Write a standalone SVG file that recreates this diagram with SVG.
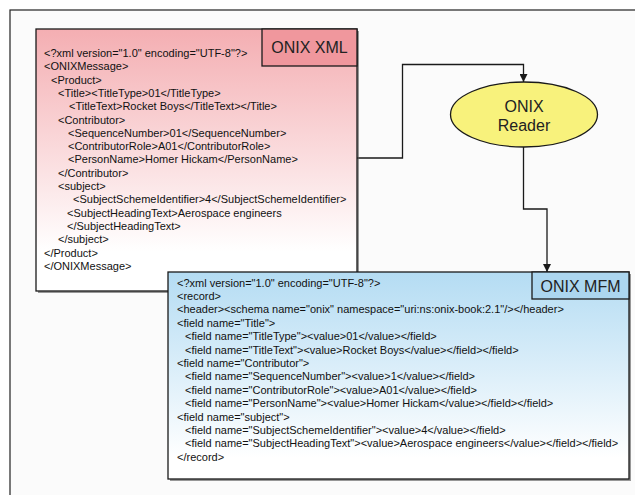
<svg xmlns="http://www.w3.org/2000/svg" width="635" height="495" viewBox="0 0 635 495">
  <style>
    .code { font-family: "Liberation Sans", Arial, sans-serif; font-size: 11px; fill: #111; }
    .tag { font-family: "Liberation Sans", Arial, sans-serif; font-size: 16px; fill: #222; }
    .box { stroke: #1a1a1a; stroke-width: 1.3; }
    .shadow { fill: #555; opacity: 0.6; }
    .wire { fill: none; stroke: #1a1a1a; stroke-width: 1.3; }
  </style>
  <defs>
    <linearGradient id="pinkFade" x1="0" y1="0" x2="0" y2="1">
      <stop offset="0" stop-color="#f4aeb2"/>
      <stop offset="0.85" stop-color="#ffffff"/>
      <stop offset="1" stop-color="#ffffff"/>
    </linearGradient>
    <linearGradient id="blueFade" x1="0" y1="0" x2="0" y2="1">
      <stop offset="0" stop-color="#b4dcf3"/>
      <stop offset="0.9" stop-color="#ffffff"/>
      <stop offset="1" stop-color="#ffffff"/>
    </linearGradient>
    <marker id="arrow" viewBox="0 0 8 8" refX="8" refY="4" markerWidth="8" markerHeight="8" markerUnits="userSpaceOnUse" orient="auto">
      <path d="M0,0 L8,4 L0,8 z" fill="#1a1a1a"/>
    </marker>
  </defs>

  <!-- page background and frame -->
  <rect x="0" y="0" width="635" height="495" fill="#ffffff"/>
  <rect x="10" y="10" width="630" height="490" fill="#fbfbfb" stroke="#222" stroke-width="1.2"/>

  <!-- connectors -->
  <g id="connectors">
    <path class="wire" d="M357,158 H402.5 V64.5 H523.5 V82" marker-end="url(#arrow)"/>
    <path class="wire" d="M523.5,147 V209 H547 V272" marker-end="url(#arrow)"/>
  </g>

  <!-- ONIX XML source record -->
  <g id="onix-xml">
    <rect class="shadow" x="38" y="31" width="321" height="262"/>
    <rect class="box" x="36" y="29" width="321" height="262" fill="url(#pinkFade)"/>
    <rect class="box" x="262" y="29" width="95" height="37" fill="#f0979d"/>
    <text class="tag" x="309.5" y="53" text-anchor="middle">ONIX XML</text>
    <text class="code" x="44" y="57">&lt;?xml version="1.0" encoding="UTF-8"?&gt;</text>
    <text class="code" x="44" y="70.3">&lt;ONIXMessage&gt;</text>
    <text class="code" x="51" y="83.6">&lt;Product&gt;</text>
    <text class="code" x="58" y="96.9">&lt;Title&gt;&lt;TitleType&gt;01&lt;/TitleType&gt;</text>
    <text class="code" x="69" y="110.2">&lt;TitleText&gt;Rocket Boys&lt;/TitleText&gt;&lt;/Title&gt;</text>
    <text class="code" x="58" y="123.5">&lt;Contributor&gt;</text>
    <text class="code" x="68" y="136.8">&lt;SequenceNumber&gt;01&lt;/SequenceNumber&gt;</text>
    <text class="code" x="68" y="150.1">&lt;ContributorRole&gt;A01&lt;/ContributorRole&gt;</text>
    <text class="code" x="68" y="163.4">&lt;PersonName&gt;Homer Hickam&lt;/PersonName&gt;</text>
    <text class="code" x="58" y="176.7">&lt;/Contributor&gt;</text>
    <text class="code" x="58" y="190">&lt;subject&gt;</text>
    <text class="code" x="73" y="203.3">&lt;SubjectSchemeIdentifier&gt;4&lt;/SubjectSchemeIdentifier&gt;</text>
    <text class="code" x="67" y="216.6">&lt;SubjectHeadingText&gt;Aerospace engineers</text>
    <text class="code" x="67" y="229.9">&lt;/SubjectHeadingText&gt;</text>
    <text class="code" x="58" y="243.2">&lt;/subject&gt;</text>
    <text class="code" x="44" y="256.5">&lt;/Product&gt;</text>
    <text class="code" x="44" y="269.8">&lt;/ONIXMessage&gt;</text>
  </g>

  <!-- ONIX Reader process -->
  <g id="onix-reader">
    <ellipse cx="524" cy="114.5" rx="73.5" ry="32.5" fill="#f8f27c" stroke="#1a1a1a" stroke-width="1.3"/>
    <text class="tag" x="524" y="111.5" text-anchor="middle" fill="#333">ONIX</text>
    <text class="tag" x="524" y="130.5" text-anchor="middle" fill="#333">Reader</text>
  </g>

  <!-- ONIX MFM output record -->
  <g id="onix-mfm">
    <rect class="shadow" x="170" y="274" width="461" height="207"/>
    <rect class="box" x="168" y="272" width="461" height="207" fill="url(#blueFade)"/>
    <rect class="box" x="532" y="272" width="97" height="27" fill="#acd6ef"/>
    <text class="tag" x="580.5" y="291.5" text-anchor="middle">ONIX MFM</text>
    <text class="code" x="177" y="286.5">&lt;?xml version="1.0" encoding="UTF-8"?&gt;</text>
    <text class="code" x="177" y="299.9">&lt;record&gt;</text>
    <text class="code" x="177" y="313.3">&lt;header&gt;&lt;schema name="onix" namespace="uri:ns:onix-book:2.1"/&gt;&lt;/header&gt;</text>
    <text class="code" x="177" y="326.7">&lt;field name="Title"&gt;</text>
    <text class="code" x="185" y="340.1">&lt;field name="TitleType"&gt;&lt;value&gt;01&lt;/value&gt;&lt;/field&gt;</text>
    <text class="code" x="185" y="353.5">&lt;field name="TitleText"&gt;&lt;value&gt;Rocket Boys&lt;/value&gt;&lt;/field&gt;&lt;/field&gt;</text>
    <text class="code" x="177" y="366.9">&lt;field name="Contributor"&gt;</text>
    <text class="code" x="185" y="380.3">&lt;field name="SequenceNumber"&gt;&lt;value&gt;1&lt;/value&gt;&lt;/field&gt;</text>
    <text class="code" x="185" y="393.7">&lt;field name="ContributorRole"&gt;&lt;value&gt;A01&lt;/value&gt;&lt;/field&gt;</text>
    <text class="code" x="185" y="407.1">&lt;field name="PersonName"&gt;&lt;value&gt;Homer Hickam&lt;/value&gt;&lt;/field&gt;&lt;/field&gt;</text>
    <text class="code" x="177" y="420.5">&lt;field name="subject"&gt;</text>
    <text class="code" x="185" y="433.9">&lt;field name="SubjectSchemeIdentifier"&gt;&lt;value&gt;4&lt;/value&gt;&lt;/field&gt;</text>
    <text class="code" x="185" y="447.3">&lt;field name="SubjectHeadingText"&gt;&lt;value&gt;Aerospace engineers&lt;/value&gt;&lt;/field&gt;&lt;/field&gt;</text>
    <text class="code" x="177" y="460.7">&lt;/record&gt;</text>
  </g>
</svg>
